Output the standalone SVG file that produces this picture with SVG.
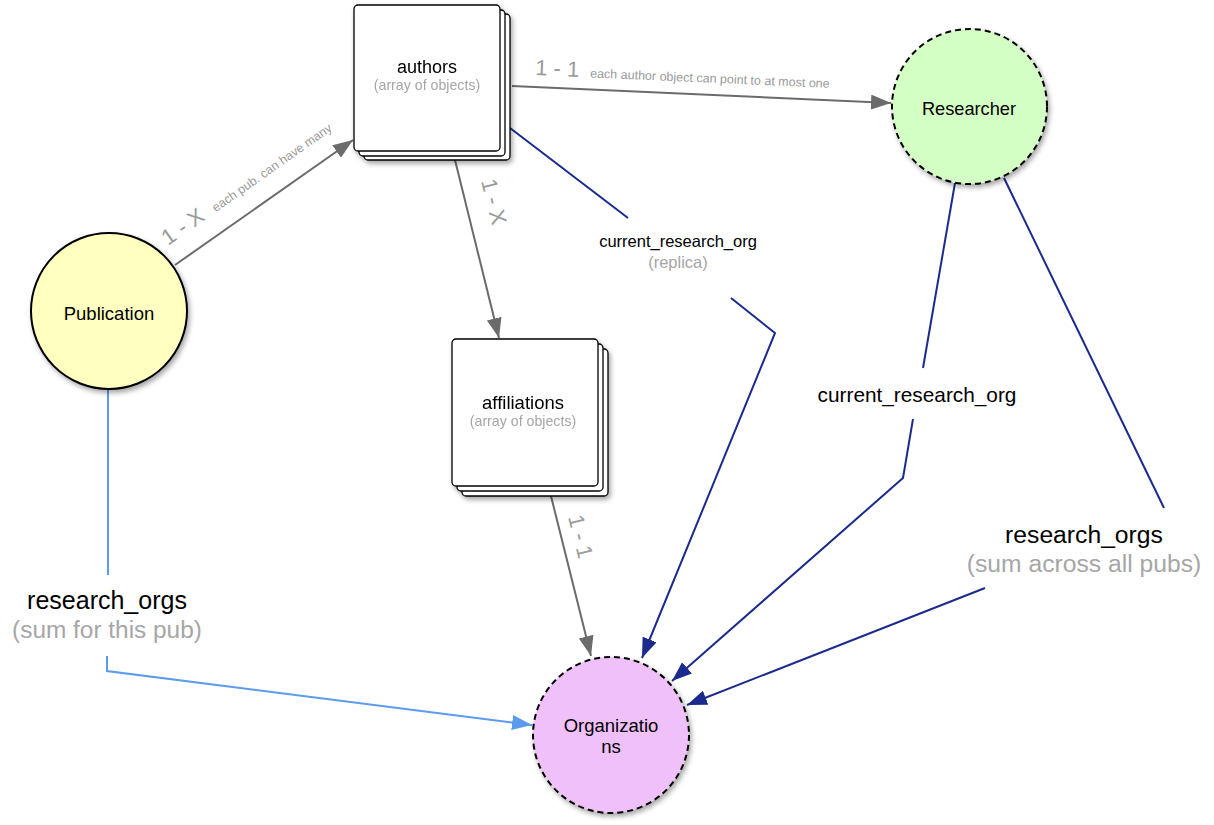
<svg xmlns="http://www.w3.org/2000/svg" width="1214" height="825" viewBox="0 0 1214 825">
<style>
text{font-family:"Liberation Sans",Arial,Helvetica,sans-serif;}
.lbl{fill:#000;text-anchor:middle;}
.sub{fill:#a6a6a6;text-anchor:middle;}
.rel{fill:#9a9a9a;}
.card{fill:#fff;stroke:#000;stroke-width:1.3;}
.gray{fill:none;stroke:#6b6b6b;stroke-width:2;}
.navy{fill:none;stroke:#1b2a8c;stroke-width:2;}
.lblue{fill:none;stroke:#5a9bf0;stroke-width:2;}
.dash{stroke:#000;stroke-width:2;stroke-dasharray:6 4;}
</style>
<defs>
<filter id="sh" x="-20%" y="-20%" width="150%" height="150%">
<feDropShadow dx="2" dy="3" stdDeviation="2.5" flood-color="#000" flood-opacity="0.35"/>
</filter>
<marker id="aG" markerUnits="userSpaceOnUse" markerWidth="22" markerHeight="16" refX="20" refY="7.5" orient="auto"><path d="M0,0 L20,7.5 L0,15 z" fill="#6b6b6b"/></marker>
<marker id="aN" markerUnits="userSpaceOnUse" markerWidth="22" markerHeight="16" refX="20" refY="7.5" orient="auto"><path d="M0,0 L20,7.5 L0,15 z" fill="#1b2a8c"/></marker>
<marker id="aL" markerUnits="userSpaceOnUse" markerWidth="22" markerHeight="16" refX="20" refY="7.5" orient="auto"><path d="M0,0 L20,7.5 L0,15 z" fill="#5a9bf0"/></marker>
</defs>
<rect width="1214" height="825" fill="#fff"/>

<g id="connectors">
<line class="gray" x1="175" y1="265" x2="353" y2="140" marker-end="url(#aG)"/>
<line class="gray" x1="512" y1="86" x2="891" y2="103" marker-end="url(#aG)"/>
<line class="gray" x1="455" y1="160" x2="499" y2="338" marker-end="url(#aG)"/>
<line class="gray" x1="551" y1="496" x2="591" y2="656" marker-end="url(#aG)"/>
<line class="navy" x1="510" y1="128" x2="628" y2="218"/>
<polyline class="navy" points="731,298 775,333 642,658" marker-end="url(#aN)"/>
<line class="navy" x1="955" y1="183" x2="923" y2="368"/>
<polyline class="navy" points="913,419 903,478 672,681" marker-end="url(#aN)"/>
<line class="navy" x1="1004" y1="178" x2="1164" y2="508"/>
<line class="navy" x1="985" y1="588" x2="687" y2="705" marker-end="url(#aN)"/>
<line class="lblue" x1="108" y1="390" x2="108" y2="575"/>
<polyline class="lblue" points="107,656 107,671 532,725" marker-end="url(#aL)"/>

<text class="rel" transform="translate(168,246) rotate(-35.2)"><tspan font-size="22">1 - X</tspan><tspan font-size="12.5" dx="12">each pub. can have many</tspan></text>
<text class="rel" transform="translate(535,75) rotate(2.5)"><tspan font-size="22">1 - 1</tspan><tspan font-size="12.5" dx="11">each author object can point to at most one</tspan></text>
<text class="rel" font-size="22" transform="translate(481,181) rotate(76)">1 - X</text>
<text class="rel" font-size="22" transform="translate(568,517) rotate(76)">1 - 1</text>

<text class="lbl" x="678" y="247" font-size="16.5">current_research_org</text>
<text class="sub" x="678" y="268" font-size="16.5">(replica)</text>
<text class="lbl" x="917" y="402" font-size="20.8">current_research_org</text>
<text class="lbl" x="1084" y="543" font-size="24.7">research_orgs</text>
<text class="sub" x="1084" y="572" font-size="24.7">(sum across all pubs)</text>
<text class="lbl" x="107" y="609" font-size="25">research_orgs</text>
<text class="sub" x="107" y="638" font-size="24.4">(sum for this pub)</text>
</g>

<g id="authors" filter="url(#sh)">
<rect class="card" x="364" y="14" width="146" height="146" rx="4"/>
<rect class="card" x="359" y="10" width="146" height="146" rx="4"/>
<rect class="card" x="354" y="5" width="146" height="146" rx="4"/>
<text class="lbl" x="427" y="73" font-size="18">authors</text>
<text class="sub" x="427" y="90" font-size="14.2">(array of objects)</text>
</g>

<g id="affiliations" filter="url(#sh)">
<rect class="card" x="462" y="349" width="146" height="147" rx="4"/>
<rect class="card" x="457" y="344" width="146" height="147" rx="4"/>
<rect class="card" x="452" y="339" width="146" height="147" rx="4"/>
<text class="lbl" x="523" y="409" font-size="18.5">affiliations</text>
<text class="sub" x="523" y="426" font-size="14.2">(array of objects)</text>
</g>

<g id="publication">
<circle cx="109" cy="311" r="78" fill="#ffffc0" stroke="#000" stroke-width="2" filter="url(#sh)"/>
<text class="lbl" x="109" y="320" font-size="18.5">Publication</text>
</g>

<g id="researcher">
<circle cx="969.5" cy="106.5" r="77.5" fill="#d4ffc4" class="dash" filter="url(#sh)"/>
<text class="lbl" x="969" y="115" font-size="18.2">Researcher</text>
</g>

<g id="organizations">
<circle cx="611" cy="735" r="78" fill="#efc0fa" class="dash" filter="url(#sh)"/>
<text class="lbl" x="611" y="732" font-size="18.5">Organizatio</text>
<text class="lbl" x="611" y="753" font-size="18.5">ns</text>
</g>
</svg>
